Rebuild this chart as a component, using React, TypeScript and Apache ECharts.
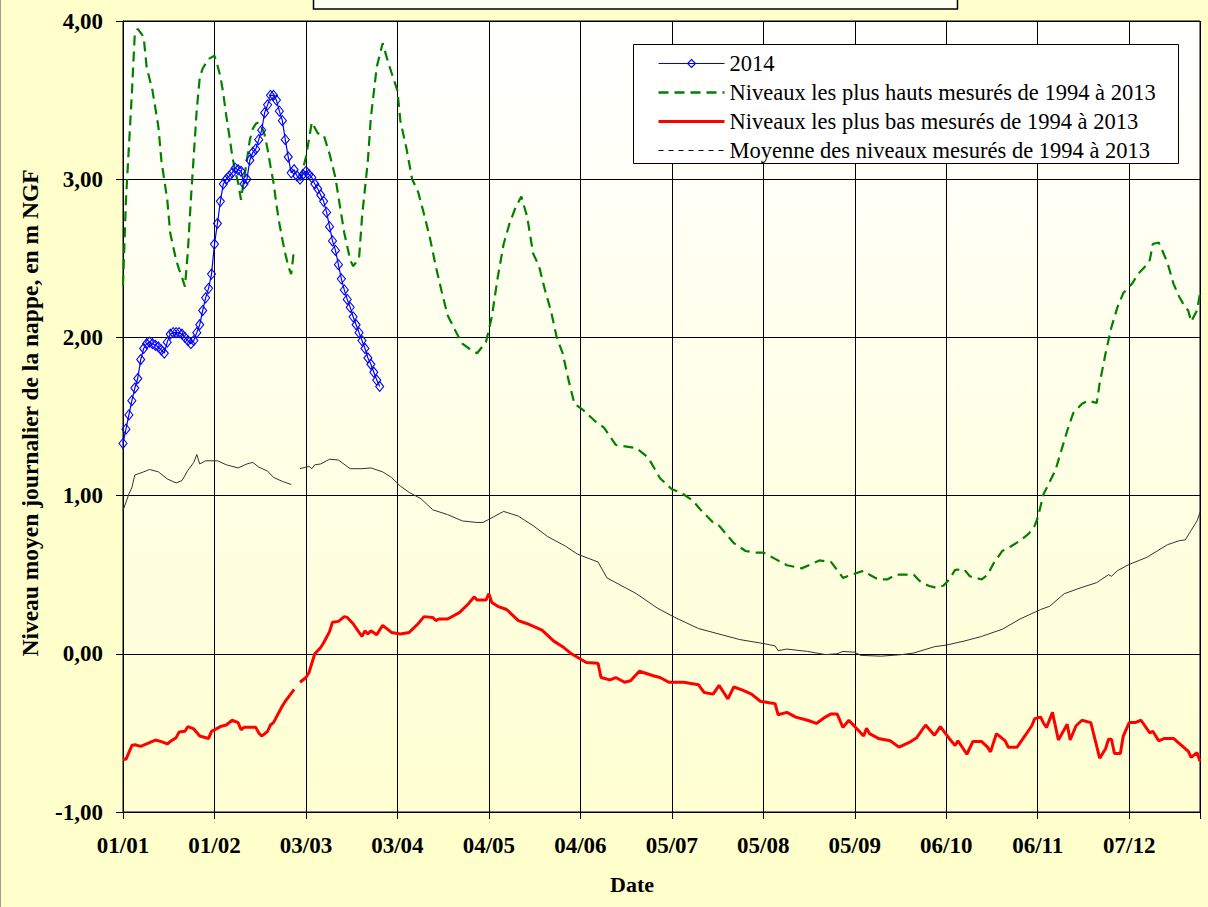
import React, { useEffect, useRef } from "react";
import * as echarts from "echarts";

// x axis: day of year (leap-year calendar, 0 = 01/01, 365 = 31/12)
const xTickLabels = ["01/01", "01/02", "03/03", "03/04", "04/05", "04/06", "05/07", "05/08", "05/09", "06/10", "06/11", "07/12"];
const xTickStep = 31;
const yTickStep = 1;

const legendNames = [
  "2014",
  "Niveaux les plus hauts mesurés de 1994 à 2013",
  "Niveaux les plus bas mesurés de 1994 à 2013",
  "Moyenne des niveaux mesurés de 1994 à 2013",
];

// 2014 daily levels (day 0 = 1 January)
const level2014 = [
  1.33, 1.42, 1.51, 1.60, 1.68, 1.74, 1.86, 1.93, 1.96, 1.97,
  1.96, 1.95, 1.94, 1.92, 1.90, 1.97, 2.02, 2.03, 2.03, 2.03,
  2.02, 2.00, 1.98, 1.96, 1.98, 2.03, 2.08, 2.17, 2.25, 2.31,
  2.40, 2.59, 2.72, 2.86, 2.97, 3.00, 3.02, 3.04, 3.07, 3.06,
  3.05, 2.97, 3.00, 3.12, 3.17, 3.19, 3.25, 3.31, 3.42, 3.47,
  3.53, 3.53, 3.50, 3.43, 3.37, 3.25, 3.14, 3.04, 3.06, 3.02,
  3.00, 3.03, 3.05, 3.03, 3.01, 2.97, 2.94, 2.90, 2.86, 2.79,
  2.70, 2.61, 2.55, 2.46, 2.37, 2.30, 2.24, 2.19, 2.13, 2.08,
  2.03, 1.98, 1.93, 1.87, 1.83, 1.78, 1.73, 1.69,
];

// Highest levels 1994-2013 [day, level]
const highest: [number, number | null][] = [
  [0, 2.33], [1, 2.87], [3, 3.54], [4, 3.92], [5, 3.95], [7, 3.90], [8, 3.71], [10, 3.56], [12, 3.33], [13, 3.12],
  [15, 2.87], [16, 2.66], [18, 2.49], [19, 2.43], [20, 2.38], [21, 2.32], [22, 2.55], [23, 2.87], [25, 3.44], [26, 3.64],
  [27, 3.70], [29, 3.76], [31, 3.78], [32, 3.72], [33, 3.65], [34, 3.54], [35, 3.40], [36, 3.28], [37, 3.15], [38, 3.05],
  [39, 2.98], [40, 2.87], [41, 3.00], [42, 3.12], [43, 3.25], [44, 3.32], [45, 3.35], [46, 3.36], [47, 3.33], [48, 3.28],
  [49, 3.19], [50, 3.08], [51, 2.98], [52, 2.84], [53, 2.72], [54, 2.62], [55, 2.53], [56, 2.45], [57, 2.40], [58, 2.56],
  [59, null],
  [60, 2.99], [62, 3.14], [64, 3.36], [66, 3.29], [68, 3.28], [70, 3.16], [72, 3.01], [73, 2.89], [75, 2.66], [77, 2.49],
  [78, 2.45], [80, 2.50], [81, 2.76], [83, 3.12], [84, 3.39], [86, 3.71], [88, 3.86], [90, 3.73], [93, 3.56], [94, 3.37],
  [96, 3.20], [98, 3.00], [100, 2.92], [102, 2.78], [104, 2.63], [106, 2.45], [108, 2.29], [110, 2.14], [113, 2.03], [115, 1.96],
  [118, 1.92], [120, 1.90], [123, 1.97], [125, 2.13], [127, 2.38], [129, 2.59], [131, 2.72], [133, 2.82], [135, 2.89], [137, 2.76],
  [139, 2.53], [141, 2.45], [143, 2.30], [145, 2.17], [147, 2.00], [149, 1.90], [151, 1.73], [153, 1.58], [156, 1.54], [160, 1.47],
  [163, 1.43], [167, 1.32], [174, 1.30], [178, 1.24], [182, 1.11], [186, 1.04], [189, 1.02], [193, 0.97], [196, 0.905], [200, 0.83],
  [202, 0.81], [207, 0.70], [211, 0.65], [214, 0.64], [217, 0.64], [221, 0.60], [225, 0.56], [230, 0.54], [236, 0.59], [240, 0.58],
  [244, 0.48], [247, 0.50], [251, 0.525], [253, 0.50], [256, 0.47], [259, 0.47], [262, 0.50], [265, 0.50], [268, 0.50], [270, 0.46],
  [273, 0.43], [275, 0.42], [278, 0.43], [280, 0.47], [282, 0.53], [285, 0.535], [287, 0.49], [291, 0.47], [293, 0.50], [295, 0.57],
  [298, 0.65], [301, 0.68], [304, 0.715], [307, 0.76], [309, 0.81], [310, 0.86], [312, 1.01], [316, 1.16], [318, 1.285], [320, 1.41],
  [322, 1.52], [325, 1.58], [327, 1.60], [330, 1.585], [331, 1.71], [333, 1.90], [335, 2.065], [337, 2.19], [339, 2.28], [342, 2.34],
  [344, 2.40], [347, 2.46], [348, 2.49], [349, 2.59], [351, 2.60], [352, 2.56], [354, 2.47], [356, 2.34], [358, 2.255], [360, 2.19],
  [361, 2.17], [362, 2.10], [364, 2.17], [365, 2.28],
];

// Lowest levels 1994-2013 [day, level]
const lowest: [number, number | null][] = [
  [0, -0.667], [1, -0.667], [3, -0.58], [4, -0.575], [6, -0.585], [8, -0.57], [11, -0.545], [13, -0.555], [15, -0.57], [16, -0.555],
  [18, -0.53], [19, -0.495], [21, -0.49], [22, -0.46], [24, -0.475], [26, -0.52], [29, -0.535], [30, -0.49], [33, -0.46], [35, -0.45],
  [37, -0.42], [39, -0.435], [40, -0.48], [41, -0.465], [45, -0.465], [46, -0.50], [47, -0.52], [49, -0.49], [50, -0.45], [51, -0.435],
  [53, -0.365], [54, -0.33], [55, -0.30], [56, -0.275], [58, -0.225],
  [59, null],
  [60, -0.18], [62, -0.15], [63, -0.12], [65, 0.00], [67, 0.04], [68, 0.07], [70, 0.14], [71, 0.20], [73, 0.205], [75, 0.235],
  [76, 0.23], [78, 0.19], [80, 0.135], [81, 0.11], [82, 0.145], [83, 0.125], [84, 0.145], [86, 0.12], [88, 0.18], [91, 0.135],
  [94, 0.125], [97, 0.135], [100, 0.19], [102, 0.235], [105, 0.23], [106, 0.21], [107, 0.22], [110, 0.22], [114, 0.26], [117, 0.315],
  [119, 0.36], [120, 0.34], [123, 0.34], [124, 0.38], [125, 0.325], [127, 0.30], [130, 0.28], [134, 0.21], [137, 0.19], [142, 0.15],
  [146, 0.08], [149, 0.045], [152, 0.00], [157, -0.055], [161, -0.06], [162, -0.15], [165, -0.165], [167, -0.15], [170, -0.18], [172, -0.17],
  [175, -0.11], [180, -0.14], [182, -0.15], [185, -0.18], [190, -0.18], [195, -0.195], [197, -0.245], [200, -0.255], [202, -0.20], [205, -0.285],
  [207, -0.21], [210, -0.23], [213, -0.255], [216, -0.30], [219, -0.31], [221, -0.315], [222, -0.385], [225, -0.37], [228, -0.40], [232, -0.42],
  [235, -0.44], [238, -0.40], [240, -0.38], [242, -0.38], [244, -0.465], [246, -0.42], [251, -0.52], [252, -0.47], [253, -0.505], [256, -0.535],
  [260, -0.55], [263, -0.59], [267, -0.555], [269, -0.53], [272, -0.45], [275, -0.515], [277, -0.46], [280, -0.535], [282, -0.58], [283, -0.55],
  [286, -0.635], [288, -0.555], [291, -0.555], [293, -0.59], [294, -0.62], [296, -0.505], [299, -0.55], [300, -0.59], [303, -0.59], [306, -0.51],
  [308, -0.455], [309, -0.41], [311, -0.40], [312, -0.44], [313, -0.465], [315, -0.37], [317, -0.545], [320, -0.445], [321, -0.545], [323, -0.455],
  [325, -0.42], [328, -0.435], [331, -0.66], [333, -0.60], [334, -0.54], [335, -0.54], [336, -0.63], [338, -0.63], [339, -0.52], [341, -0.435],
  [343, -0.435], [345, -0.42], [348, -0.50], [349, -0.49], [351, -0.55], [353, -0.535], [356, -0.535], [360, -0.60], [361, -0.615], [362, -0.655],
  [364, -0.625], [365, -0.68],
];

// Mean levels 1994-2013 [day, level]
const mean: [number, number | null][] = [
  [0, 0.905], [2, 1.01], [3, 1.05], [4, 1.13], [7, 1.15], [9, 1.165], [12, 1.15], [15, 1.105], [18, 1.08], [20, 1.095],
  [22, 1.16], [24, 1.21], [25, 1.26], [26, 1.20], [28, 1.22], [32, 1.22], [35, 1.195], [39, 1.175], [42, 1.20], [44, 1.21],
  [46, 1.18], [49, 1.155], [51, 1.115], [54, 1.09], [57, 1.07],
  [58, null],
  [60, 1.17], [63, 1.185], [64, 1.17], [65, 1.195], [67, 1.20], [70, 1.23], [73, 1.225], [77, 1.17], [81, 1.17], [84, 1.175],
  [88, 1.15], [91, 1.115], [94, 1.06], [97, 1.02], [101, 0.98], [105, 0.91], [110, 0.88], [115, 0.84], [120, 0.83], [122, 0.83],
  [124, 0.85], [129, 0.90], [134, 0.87], [139, 0.81], [144, 0.74], [150, 0.68], [154, 0.63], [161, 0.58], [164, 0.48], [168, 0.44],
  [174, 0.38], [181, 0.29], [187, 0.23], [195, 0.16], [202, 0.125], [209, 0.09], [217, 0.065], [221, 0.05], [222, 0.02], [225, 0.03],
  [232, 0.015], [238, -0.005], [242, 0.00], [244, 0.015], [248, 0.01], [250, -0.01], [257, -0.015], [264, -0.005], [268, 0.005], [275, 0.045],
  [279, 0.055], [285, 0.08], [291, 0.11], [298, 0.155], [304, 0.22], [311, 0.28], [314, 0.30], [319, 0.38], [325, 0.42], [330, 0.45],
  [334, 0.50], [335, 0.49], [337, 0.525], [341, 0.565], [347, 0.61], [354, 0.69], [358, 0.715], [360, 0.72], [362, 0.78], [364, 0.84],
  [365, 0.895],
];

const SERIF = "'Liberation Serif', 'Times New Roman', serif";

export default function App() {
  const ref = useRef<HTMLDivElement>(null);

  useEffect(() => {
    if (!ref.current) return;
    const chart = echarts.init(ref.current, null, { renderer: "svg" });
    chart.setOption({
      animation: false,
      backgroundColor: "#FFFFCC",
      grid: {
        left: 123,
        right: 8,
        top: 21,
        bottom: 95,
        show: true,
        borderColor: "#000",
        borderWidth: 1,
        backgroundColor: new echarts.graphic.LinearGradient(0, 0, 0, 1, [
          { offset: 0, color: "#FFFFFF" },
          { offset: 1, color: "#FFFFD2" },
        ]),
      },
      xAxis: {
        type: "value",
        min: 0,
        max: 365,
        interval: xTickStep,
        axisLine: { show: true, onZero: false, lineStyle: { color: "#000", width: 1 } },
        axisTick: { show: true, length: 7, lineStyle: { color: "#000" } },
        splitLine: { show: true, lineStyle: { color: "#000", width: 1 } },
        axisLabel: {
          margin: 22,
          fontFamily: SERIF,
          fontWeight: "bold",
          fontSize: 23,
          color: "#000",
          formatter: (v: number) => {
            const i = Math.round(v / xTickStep);
            return Math.abs(v - i * xTickStep) < 1e-6 && i < xTickLabels.length ? xTickLabels[i] : "";
          },
        },
      },
      yAxis: {
        type: "value",
        min: -1,
        max: 4,
        interval: yTickStep,
        axisLine: { show: true, lineStyle: { color: "#000", width: 1 } },
        axisTick: { show: true, length: 7, lineStyle: { color: "#000" } },
        splitLine: { show: true, lineStyle: { color: "#000", width: 1 } },
        axisLabel: {
          margin: 20,
          fontFamily: SERIF,
          fontWeight: "bold",
          fontSize: 23,
          color: "#000",
          formatter: (v: number) => v.toFixed(2).replace(".", ","),
        },
      },
      legend: {
        left: 657,
        top: 52,
        orient: "vertical",
        padding: 0,
        itemWidth: 66,
        itemHeight: 10,
        itemGap: 6,
        selectedMode: false,
        textStyle: { fontFamily: SERIF, fontSize: 22.5, color: "#000" },
        data: [
          {
            name: legendNames[0],
            lineStyle: { width: 1.2, color: "#0000FF" },
            itemStyle: { color: "rgba(255,255,255,0)", borderColor: "#0000FF", borderWidth: 1.1 },
          },
          { name: legendNames[1], itemStyle: { opacity: 0 }, lineStyle: { width: 2.5, color: "#008000", type: [10, 6] } },
          { name: legendNames[2], itemStyle: { opacity: 0 }, lineStyle: { width: 3, color: "#FF0000" } },
          { name: legendNames[3], itemStyle: { opacity: 0 }, lineStyle: { width: 1, type: [5, 5], color: "#000" } },
        ],
      },
      graphic: [
        {
          type: "rect",
          z: 3,
          shape: { x: 633.5, y: 44.5, width: 545, height: 119 },
          style: { fill: "#FFFFFF", stroke: "#000", lineWidth: 1 },
        },
        {
          type: "rect",
          shape: { x: 313.5, y: -12, width: 644, height: 21 },
          style: { fill: "#FFFFF0", stroke: "#000", lineWidth: 1.5 },
        },
        {
          type: "line",
          shape: { x1: 0.5, y1: 0, x2: 0.5, y2: 907 },
          style: { stroke: "#A0A090", lineWidth: 1 },
        },
        {
          type: "text",
          x: 30,
          y: 413,
          rotation: Math.PI / 2,
          style: {
            text: "Niveau moyen journalier de la nappe, en m NGF",
            fontFamily: SERIF,
            fontWeight: "bold",
            fontSize: 23.5,
            fill: "#000",
            align: "center",
            verticalAlign: "middle",
          },
        },
        {
          type: "text",
          x: 632,
          y: 884,
          style: {
            text: "Date",
            fontFamily: SERIF,
            fontWeight: "bold",
            fontSize: 22,
            fill: "#000",
            align: "center",
            verticalAlign: "middle",
          },
        },
      ],
      series: [
        {
          name: legendNames[0],
          type: "line",
          data: level2014.map((v, i) => [i, v]),
          symbol: "diamond",
          symbolSize: [8, 10],
          showSymbol: true,
          z: 5,
          lineStyle: { color: "#0000FF", width: 1.2 },
          itemStyle: { color: "rgba(255,255,255,0)", borderColor: "#0000FF", borderWidth: 1.1 },
        },
        {
          name: legendNames[1],
          type: "line",
          data: highest,
          symbol: "none",
          connectNulls: false,
          color: "#008000",
          lineStyle: { color: "#008000", width: 2.2, type: [10, 6] },
        },
        {
          name: legendNames[2],
          type: "line",
          data: lowest,
          symbol: "none",
          connectNulls: false,
          color: "#FF0000",
          lineStyle: { color: "#FF0000", width: 3 },
        },
        {
          name: legendNames[3],
          type: "line",
          data: mean,
          symbol: "none",
          connectNulls: false,
          color: "#333333",
          lineStyle: { color: "#333333", width: 1 },
        },
      ],
    });
    return () => chart.dispose();
  }, []);

  return <div ref={ref} style={{ position: "fixed", left: 0, top: 0, width: 1208, height: 907 }} />;
}
